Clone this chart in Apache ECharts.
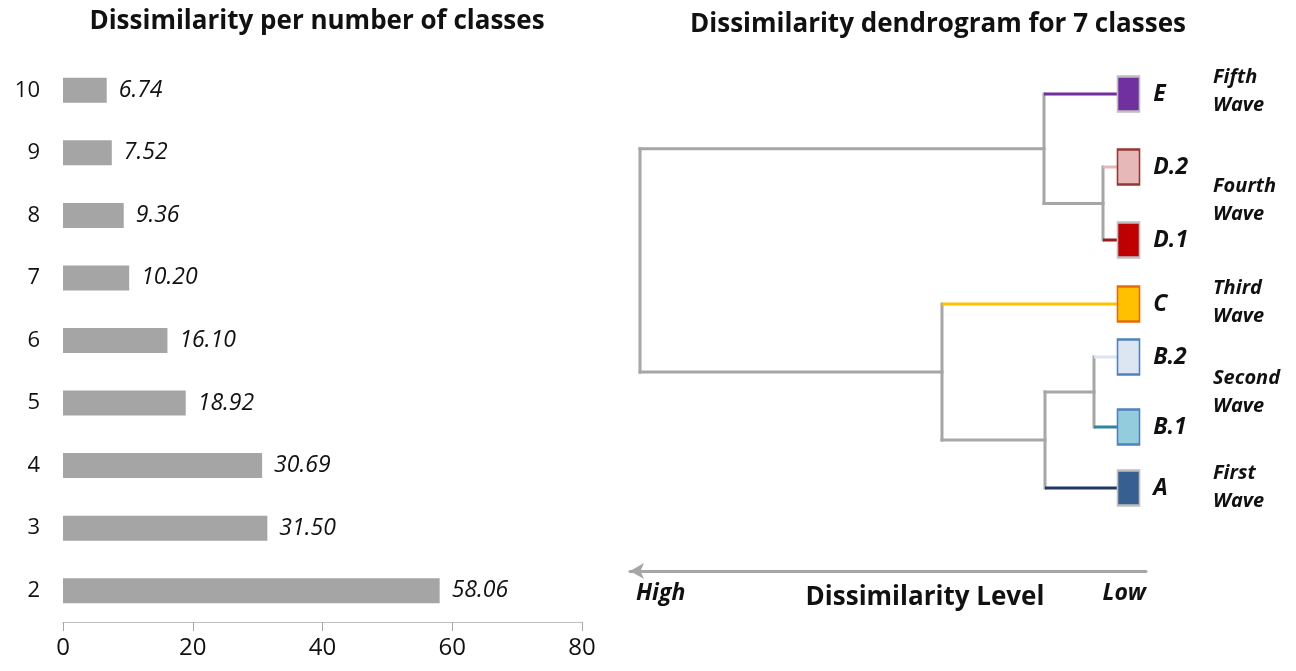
<!DOCTYPE html>
<html>
<head>
<meta charset="utf-8">
<script src="https://cdn.jsdelivr.net/npm/echarts@6/dist/echarts.min.js"></script>
<style>
  html, body { margin: 0; padding: 0; background: #fff; }
  #main { width: 1296px; height: 671px; }
</style>
</head>
<body>
<div id="main"></div>
<script>
// bar chart: dissimilarity per number of classes
var classCounts = ['2', '3', '4', '5', '6', '7', '8', '9', '10'];
var dissimilarity = [58.06, 31.50, 30.69, 18.92, 16.10, 10.20, 9.36, 7.52, 6.74];
var xTicks = [0, 20, 40, 60, 80];

// dendrogram leaves (top to bottom) and their vertical position
var leafNames = ['E', 'D.2', 'D.1', 'C', 'B.2', 'B.1', 'A'];
var leafPos = [34, 107, 180, 244, 297, 367, 428];
var leafFill = ['#7030a0', '#e6b9b8', '#c00000', '#ffc000', '#dce6f2', '#93cddd', '#376092'];
var leafBorder = ['#bfbfbf', '#953735', '#bfbfbf', '#e46c0a', '#4f81bd', '#4f81bd', '#bfbfbf'];
var leafLine = ['#7030a0', '#e6b9b8', '#9b1b1b', '#ffc000', '#dce6f2', '#31849b', '#1f3864'];
// merges: [child a, child b, dissimilarity level]; new nodes get index 7, 8, ...
var merges = [
  ['D.2', 'D.1', 14],
  ['E', 7, 73],
  ['B.2', 'B.1', 23],
  [9, 'A', 72],
  ['C', 10, 175],
  [8, 11, 477]
];
var waveLabels = ['Fifth\nWave', 'Fourth\nWave', 'Third\nWave', 'Second\nWave', 'First\nWave'];
var waveY = [91, 200, 302, 392, 487];

var GRAY = '#a6a6a6';
var FONT = '"Open Sans", sans-serif';

// build dendrogram segments as small line series
var nodes = [];
leafNames.forEach(function (n, i) {
  nodes.push({ y: leafPos[i], level: 0, leaf: i });
});
function nodeIndex(k) {
  return typeof k === 'number' ? k : leafNames.indexOf(k);
}
var treeSeries = [];
function seg(p1, p2, color, z) {
  treeSeries.push({
    type: 'line', xAxisIndex: 1, yAxisIndex: 1, z: z,
    data: [p1, p2], symbol: 'none', silent: true,
    lineStyle: { color: color, width: 3, cap: z === 2 ? 'square' : 'butt' }
  });
}
merges.forEach(function (m) {
  var a = nodes[nodeIndex(m[0])];
  var b = nodes[nodeIndex(m[1])];
  var lv = m[2];
  [a, b].forEach(function (c) {
    if (c.leaf !== undefined) seg([c.level, c.y], [lv, c.y], leafLine[c.leaf], 3);
    else seg([c.level, c.y], [lv, c.y], GRAY, 2);
  });
  seg([lv, a.y], [lv, b.y], GRAY, 2);
  nodes.push({ y: (a.y + b.y) / 2, level: lv });
});

var chart = echarts.init(document.getElementById('main'));

chart.setOption({
  backgroundColor: '#fff',
  animation: false,
  title: [
    {
      text: 'Dissimilarity per number of classes',
      left: 312, top: 4, textAlign: 'center',
      textStyle: { fontFamily: FONT, fontWeight: 'bold', fontSize: 26, color: '#111' }
    },
    {
      text: 'Dissimilarity dendrogram for 7 classes',
      left: 933, top: 7, textAlign: 'center',
      textStyle: { fontFamily: FONT, fontWeight: 'bold', fontSize: 26, color: '#111' }
    }
  ],
  grid: [
    { left: 63, width: 519, top: 59, height: 563 },
    { left: 630, right: 150, top: 60, bottom: 100 }
  ],
  xAxis: [
    {
      gridIndex: 0, type: 'value', min: 0, max: 80, interval: 20,
      axisLine: { show: true, lineStyle: { color: '#bfbfbf', width: 1 } },
      axisTick: { show: true, length: 9, lineStyle: { color: '#a6a6a6' } },
      splitLine: { show: false },
      axisLabel: { fontFamily: FONT, fontSize: 24, color: '#111', margin: 14 },
      data: xTicks
    },
    {
      gridIndex: 1, type: 'value', inverse: true, min: -29, max: 487,
      axisLine: {
        show: true, onZero: false, symbol: ['arrow', 'none'], symbolSize: [12, 14],
        lineStyle: { color: GRAY, width: 3 }
      },
      axisTick: { show: false }, axisLabel: { show: false }, splitLine: { show: false }
    }
  ],
  yAxis: [
    {
      gridIndex: 0, type: 'category', data: classCounts,
      axisLine: { show: false }, axisTick: { show: false },
      axisLabel: { fontFamily: FONT, fontSize: 22, color: '#111', margin: 23 }
    },
    {
      gridIndex: 1, type: 'value', inverse: true, min: 0, max: 511, show: false
    }
  ],
  series: [
    {
      type: 'bar', xAxisIndex: 0, yAxisIndex: 0,
      data: dissimilarity, barWidth: 25,
      itemStyle: { color: '#a5a5a5' },
      label: {
        show: true, position: 'right', distance: 12,
        formatter: function (p) { return p.value.toFixed(2); },
        fontFamily: FONT, fontStyle: 'italic', fontSize: 23, color: '#111'
      }
    },
    {
      type: 'scatter', xAxisIndex: 1, yAxisIndex: 1, z: 4,
      symbol: 'rect', symbolSize: [22, 35],
      data: leafNames.map(function (n, i) {
        return {
          name: n, value: [-11.5, leafPos[i]],
          itemStyle: { color: leafFill[i], borderColor: leafBorder[i], borderWidth: 2, opacity: 1 }
        };
      }),
      label: {
        show: true, position: 'right', distance: 13,
        formatter: '{b}',
        fontFamily: FONT, fontStyle: 'italic', fontWeight: 'bold', fontSize: 23, color: '#111'
      }
    }
  ].concat(treeSeries),
  graphic: waveLabels.map(function (t, i) {
    return {
      type: 'text', x: 1213, y: waveY[i],
      style: {
        text: t, fontFamily: FONT, fontStyle: 'italic', fontWeight: 'bold',
        fontSize: 20, lineHeight: 28, fill: '#111', verticalAlign: 'middle'
      }
    };
  }).concat([
    {
      type: 'text', x: 636, y: 593,
      style: { text: 'High', fontFamily: FONT, fontStyle: 'italic', fontWeight: 'bold', fontSize: 23, fill: '#111', verticalAlign: 'middle' }
    },
    {
      type: 'text', x: 1146, y: 593,
      style: { text: 'Low', fontFamily: FONT, fontStyle: 'italic', fontWeight: 'bold', fontSize: 23, fill: '#111', align: 'right', verticalAlign: 'middle' }
    },
    {
      type: 'text', x: 925, y: 598,
      style: { text: 'Dissimilarity Level', fontFamily: FONT, fontWeight: 'bold', fontSize: 26, fill: '#111', align: 'center', verticalAlign: 'middle' }
    }
  ])
});
</script>
</body>
</html>
